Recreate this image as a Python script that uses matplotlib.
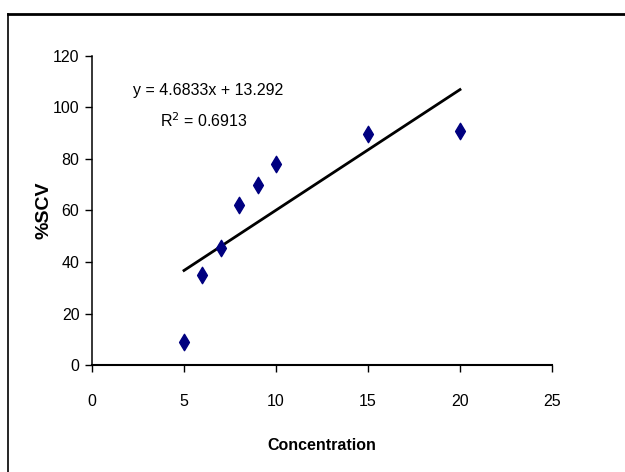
import matplotlib
matplotlib.use("Agg")
import matplotlib.pyplot as plt
from matplotlib.lines import Line2D

# measured concentration vs %SCV
conc = [5, 6, 7, 8, 9, 10, 15, 20]
scv = [9, 35, 45.5, 62, 70, 78, 89.6, 91]

# linear trendline
slope = 4.6833
intercept = 13.292
r2 = 0.6913

x_ticks = [0, 5, 10, 15, 20, 25]
y_ticks = [0, 20, 40, 60, 80, 100, 120]

plt.rcParams['font.family'] = ['Liberation Sans', 'DejaVu Sans']

W, H = 625, 472
fig = plt.figure(figsize=(W / 100, H / 100), dpi=100)
ax = fig.add_axes([92 / W, (H - 365) / H, 460 / W, 309 / H])

ax.scatter(conc, scv, marker='d', s=70, color='#000080', zorder=3)

x_fit = [min(conc), max(conc)]
y_fit = [slope * x + intercept for x in x_fit]
ax.plot(x_fit, y_fit, color='black', lw=2, zorder=2)

ax.set_xlim(0, 25)
ax.set_ylim(0, 120)
ax.set_xticks(x_ticks)
ax.set_yticks(y_ticks)
ax.tick_params(axis='x', length=5, width=1, pad=16, labelsize=11.5, direction='out')
ax.tick_params(axis='y', length=5, width=1, pad=4, labelsize=11.5, direction='out')

for side in ['top', 'right']:
    ax.spines[side].set_visible(False)
ax.spines['left'].set_linewidth(1.1)
ax.spines['bottom'].set_linewidth(1.5)

ax.set_xlabel('Concentration', fontsize=11.5, fontweight='bold', labelpad=21)
ax.set_ylabel('%SCV', fontsize=14, fontweight='bold')
ax.yaxis.set_label_coords(-0.085, 0.5)

fig.text(133 / W, 1 - 91 / H, f'y = {slope}x + {intercept}', fontsize=11.5,
         va='center', ha='left')
fig.text(160 / W, 1 - 121 / H, f'R$^2$ = {r2}', fontsize=11.5, va='center', ha='left')

# frame around the chart area
fig.add_artist(Line2D([8 / W, 1], [1 - 14 / H] * 2, transform=fig.transFigure,
                      color='black', lw=2))
fig.add_artist(Line2D([8 / W] * 2, [0, 1 - 14 / H], transform=fig.transFigure,
                      color='black', lw=1.2))

fig.savefig('out.png', dpi=100)
